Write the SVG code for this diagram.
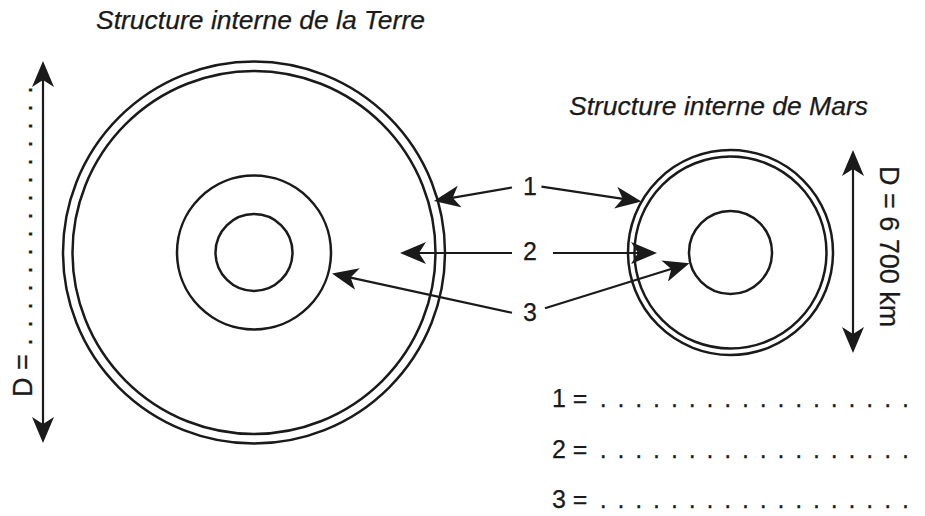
<svg xmlns="http://www.w3.org/2000/svg" width="925" height="516" viewBox="0 0 925 516">
<defs>
<style>
.ring{fill:none;stroke:#1a1a1a;stroke-width:2.5}
.ln{fill:none;stroke:#1a1a1a;stroke-width:2.2}
.t{font-family:"Liberation Sans",Arial,sans-serif;fill:#1a1a1a;stroke:#1a1a1a;stroke-width:0.25}
.ti{font-style:italic;font-size:26.5px}
.lb{font-size:25px}
</style>
<marker id="ah" viewBox="0 0 26 22" markerWidth="26" markerHeight="22" markerUnits="userSpaceOnUse" refX="21" refY="11" orient="auto-start-reverse">
<path d="M26,11 L0,0 L7,11 L0,22 Z" fill="#1a1a1a"/>
</marker>
</defs>
<rect width="925" height="516" fill="#ffffff"/>
<text class="t ti" x="96" y="29">Structure interne de la Terre</text>
<text class="t ti" x="569" y="115">Structure interne de Mars</text>
<g id="terre">
<circle class="ring" cx="254" cy="252.5" r="191"/>
<circle class="ring" cx="254" cy="252.5" r="181.5"/>
<circle class="ring" cx="254" cy="252.5" r="77"/>
<circle class="ring" cx="254" cy="252.5" r="38.5"/>
</g>
<g id="mars">
<circle class="ring" cx="730.5" cy="252.5" r="102.5"/>
<circle class="ring" cx="730.5" cy="252.5" r="96"/>
<circle class="ring" cx="730.5" cy="252.5" r="41.5"/>
</g>
<g id="connectors">
<line class="ln" x1="43" y1="66" x2="43" y2="438" marker-start="url(#ah)" marker-end="url(#ah)"/>
<line class="ln" x1="853" y1="155" x2="853" y2="348" marker-start="url(#ah)" marker-end="url(#ah)"/>
<line class="ln" x1="512" y1="187.5" x2="438.9" y2="200.1" marker-end="url(#ah)"/>
<line class="ln" x1="541.5" y1="186.7" x2="636.5" y2="200.8" marker-end="url(#ah)"/>
<line class="ln" x1="512" y1="253" x2="405" y2="253" marker-end="url(#ah)"/>
<line class="ln" x1="553" y1="253" x2="652" y2="253" marker-end="url(#ah)"/>
<line class="ln" x1="512" y1="312.7" x2="336.9" y2="274.6" marker-end="url(#ah)"/>
<line class="ln" x1="545" y1="308.3" x2="684.7" y2="264.8" marker-end="url(#ah)"/>
</g>
<g id="labels-centre">
<text class="t lb" x="530" y="195" text-anchor="middle">1</text>
<text class="t lb" x="530" y="260" text-anchor="middle">2</text>
<text class="t lb" x="530" y="321" text-anchor="middle">3</text>
</g>
<text class="t" font-size="27" transform="translate(31.5,397) rotate(-90)">D = <tspan x="51.2" letter-spacing="1.5">. . . . . . . . . . . . . . .</tspan></text>
<text class="t" font-size="27" transform="translate(880,166) rotate(90)">D = 6 700 km</text>
<g id="legende">
<text class="t lb" x="552" y="407">1 = <tspan x="599.8" letter-spacing="1.94">. . . . . . . . . . . . . . . . . .</tspan></text>
<text class="t lb" x="552" y="458">2 = <tspan x="599.8" letter-spacing="1.94">. . . . . . . . . . . . . . . . . .</tspan></text>
<text class="t lb" x="552" y="508">3 = <tspan x="599.8" letter-spacing="1.94">. . . . . . . . . . . . . . . . . .</tspan></text>
</g>
</svg>
